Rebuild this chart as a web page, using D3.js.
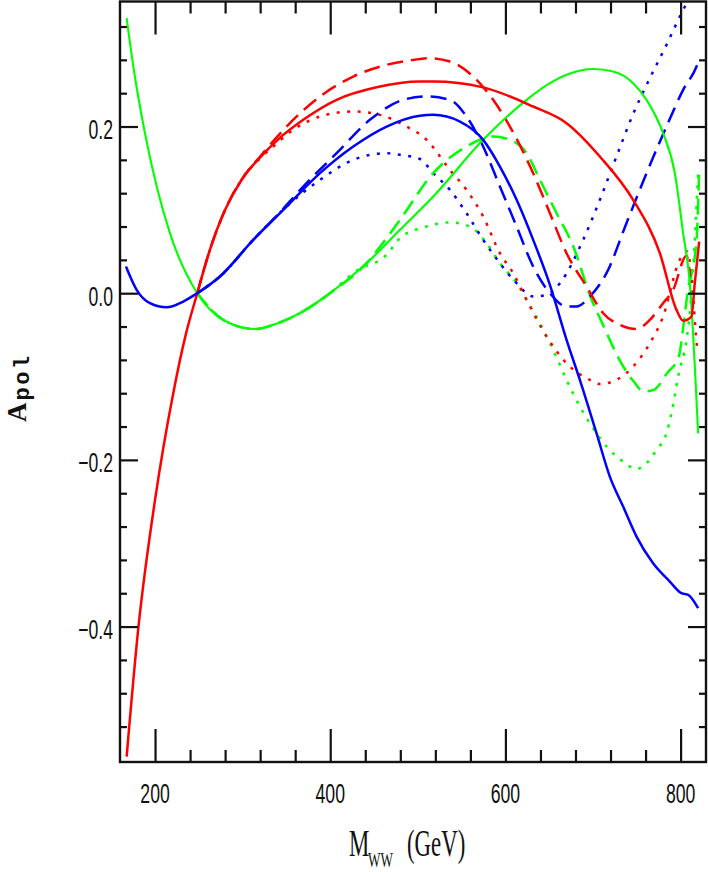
<!DOCTYPE html>
<html>
<head>
<meta charset="utf-8">
<script src="https://cdn.jsdelivr.net/npm/d3@7"></script>
<style>
  body { margin: 0; background: #fff; }
  svg { display: block; }
</style>
</head>
<body>
<script>
//Tick values for the two axes
var xTickLabels = [200, 400, 600, 800];
var yTickLabels = [-0.4, -0.2, 0.0, 0.2];

//Curves, [M_WW, A_pol]
var redSolid = [[167.6,-0.556],[180.9,-0.402],[200,-0.248],[220.8,-0.12],[235,-0.05],[248.2,0],[262,0.05],[280,0.1],[300,0.138],[320,0.163],[340,0.184],[369.2,0.208],[407.3,0.232],[452.9,0.247],[502.4,0.254],[517.6,0.254],[574.6,0.247],[631.6,0.224],[669.8,0.204],[707.8,0.164],[745.8,0.112],[776.3,0.048],[795.3,-0.02],[802.9,-0.033],[812.4,-0.028],[816.2,0.012],[821.2,0.062]];
var redDashed = [[248.2,0],[262,0.05],[280,0.1],[300,0.138],[320,0.164],[350.2,0.2],[388.3,0.236],[426.3,0.26],[464.4,0.274],[502.4,0.281],[510,0.282],[536.6,0.278],[563.2,0.26],[586,0.232],[605.1,0.2],[631.7,0.144],[650.8,0.096],[669.8,0.048],[692.6,0.008],[711.6,-0.024],[730.6,-0.038],[749.7,-0.043],[764.9,-0.032],[780,-0.012],[791.5,0.004],[806.7,0.045],[811,0.02]];
var redDotted = [[248.2,0],[262,0.05],[280,0.1],[300,0.138],[320,0.162],[335,0.176],[357.8,0.196],[388.3,0.212],[426.3,0.218],[456.7,0.214],[483.4,0.202],[510,0.184],[536.6,0.148],[555.6,0.124],[574.6,0.092],[593.7,0.048],[608.9,0.024],[624.2,-0.008],[647,-0.052],[673.6,-0.088],[696.4,-0.104],[707.8,-0.109],[726.8,-0.104],[745.8,-0.088],[764.9,-0.06],[780,-0.028],[799,0.04],[808,0.05],[814,0.0],[818.5,-0.062],[820,-0.072]];

var blueSolid = [[166.8,0.032],[179,0.004],[194.2,-0.012],[213.3,-0.017],[232.2,-0.01],[248.2,0],[274.1,0.02],[312.1,0.064],[350.2,0.104],[388.3,0.144],[426.3,0.176],[464.4,0.2],[502.4,0.213],[517.6,0.214],[548.1,0.206],[574.6,0.184],[593.7,0.152],[612.8,0.112],[631.7,0.064],[650.8,0.01],[669.8,-0.056],[685,-0.104],[704,-0.168],[719.2,-0.22],[734.4,-0.256],[749.7,-0.292],[768.6,-0.324],[787.7,-0.346],[801,-0.36],[808.6,-0.362],[820,-0.378]];
var blueDashed = [[248.2,0],[274.1,0.02],[312.1,0.064],[340,0.094],[369.2,0.128],[407.3,0.168],[445.3,0.208],[483.4,0.232],[510,0.236],[536.6,0.232],[555.6,0.212],[574.6,0.176],[593.7,0.128],[612.8,0.08],[631.7,0.032],[650.8,0],[669.8,-0.016],[681.2,-0.016],[696.4,-0.004],[715.4,0.024],[738.2,0.084],[761.1,0.144],[783.9,0.2],[802.9,0.244],[818.2,0.272],[821,0.28]];
var blueDotted = [[248.2,0],[274.1,0.02],[312.1,0.064],[350.2,0.104],[388.3,0.136],[426.3,0.16],[464.4,0.168],[479.6,0.166],[502.4,0.161],[517.6,0.144],[536.6,0.124],[555.6,0.096],[574.6,0.064],[593.7,0.036],[612.8,0.012],[631.7,-0.004],[646.9,-0.002],[662.2,0.012],[688.8,0.064],[707.8,0.112],[726.8,0.164],[745.8,0.215],[764.9,0.258],[783.9,0.298],[801,0.336],[812,0.358]];

var greenSolid = [[167.6,0.33],[175.2,0.272],[188.5,0.192],[201.9,0.128],[217,0.072],[248.2,0],[277.9,-0.032],[314,-0.043],[340,-0.036],[365.4,-0.024],[399.7,0],[441.5,0.036],[479.6,0.076],[517.6,0.116],[574.6,0.184],[624.2,0.232],[650.8,0.252],[669.8,0.262],[700.2,0.269],[723,0.266],[745.8,0.252],[761.1,0.232],[780,0.192],[793.4,0.144],[802.9,0.072],[810.5,0.012],[820,-0.168]];
var greenDashed = [[248.2,0],[277.9,-0.032],[314,-0.043],[340,-0.036],[365.4,-0.024],[399.7,0],[441.5,0.036],[460,0.06],[479.6,0.088],[517.6,0.144],[555.6,0.176],[586,0.188],[605.1,0.184],[624.2,0.168],[639.4,0.136],[658.4,0.096],[677.5,0.056],[697,-0.004],[712.3,-0.04],[731.3,-0.082],[746.5,-0.106],[757.9,-0.118],[769.3,-0.116],[784.5,-0.096],[797.9,-0.076],[803.6,-0.036],[807.3,-0.004],[818.2,0.064],[821.2,0.148]];
var greenDotted = [[248.2,0],[277.9,-0.032],[314,-0.043],[340,-0.036],[365.4,-0.024],[399.7,0],[430,0.027],[464.4,0.046],[479.6,0.066],[510,0.08],[536.6,0.085],[559.4,0.08],[578.5,0.06],[593.7,0.036],[612.8,0.012],[624.2,-0.008],[639.4,-0.036],[654.6,-0.068],[669.8,-0.104],[685,-0.136],[696.4,-0.156],[715.4,-0.184],[734.4,-0.202],[749.7,-0.211],[761.1,-0.204],[772.5,-0.188],[783.9,-0.168],[789.6,-0.144],[797.2,-0.1],[806.7,-0.056],[810.5,-0.024],[818.2,0.104],[820,0.144]];

//Dimensions of the page and of the plot frame
var width = 708,
    height = 872,
    margin = {top: 1.5, right: 2, bottom: 110, left: 120};

var x = d3.scaleLinear()
    .domain([160, 829])
    .range([margin.left, width - margin.right]);

var y = d3.scaleLinear()
    .domain([-0.5625, 0.35])
    .range([height - margin.bottom, margin.top]);

const svg = d3.select("body")
    .append("svg")
    .attr("width", width)
    .attr("height", height);

svg.append("clipPath")
    .attr("id", "frame")
  .append("rect")
    .attr("x", x.range()[0])
    .attr("y", y.range()[1])
    .attr("width", x.range()[1] - x.range()[0])
    .attr("height", y.range()[0] - y.range()[1]);

//Curves, dotted and dashed first so the solid lines sit on top
var line = d3.line()
    .x(d => x(d[0]))
    .y(d => y(d[1]))
    .curve(d3.curveMonotoneX);

var curves = [
    {data: greenDotted, color: "#00ff00", dash: "3,7.5", w: 2.5},
    {data: blueDotted, color: "#0000ff", dash: "3,7.5", w: 2.5},
    {data: redDotted, color: "#ff0000", dash: "3,7.5", w: 2.5},
    {data: greenDashed, color: "#00ff00", dash: "16,8", w: 2.5},
    {data: blueDashed, color: "#0000ff", dash: "16,8", w: 2.5},
    {data: redDashed, color: "#ff0000", dash: "16,8", w: 2.5},
    {data: greenSolid, color: "#00ff00", dash: null, w: 2.1},
    {data: redSolid, color: "#ff0000", dash: null, w: 2.5},
    {data: blueSolid, color: "#0000ff", dash: null, w: 2.5}
];

const plot = svg.append("g").attr("clip-path", "url(#frame)");

plot.selectAll("path")
    .data(curves)
    .join("path")
    .attr("d", d => line(d.data))
    .attr("fill", "none")
    .attr("stroke", d => d.color)
    .attr("stroke-width", d => d.w)
    .attr("stroke-dasharray", d => d.dash)
    .attr("stroke-linecap", "butt");

//Ticks on all four sides, pointing inwards
var xMinor = d3.range(200, 829, 40).filter(v => xTickLabels.indexOf(v) < 0);
var yMinor = d3.range(-0.52, 0.33, 0.04).filter(v => !yTickLabels.some(t => Math.abs(t - v) < 1e-6));

function noLabels(axis) { return axis.tickFormat("").tickSizeOuter(0); }

var tickGroups = [
    svg.append("g").attr("transform", `translate(0,${y.range()[0]})`).call(noLabels(d3.axisBottom(x).tickValues(xTickLabels).tickSize(-33))),
    svg.append("g").attr("transform", `translate(0,${y.range()[0]})`).call(noLabels(d3.axisBottom(x).tickValues(xMinor).tickSize(-12))),
    svg.append("g").attr("transform", `translate(0,${y.range()[1]})`).call(noLabels(d3.axisTop(x).tickValues(xTickLabels).tickSize(-33))),
    svg.append("g").attr("transform", `translate(0,${y.range()[1]})`).call(noLabels(d3.axisTop(x).tickValues(xMinor).tickSize(-12))),
    svg.append("g").attr("transform", `translate(${x.range()[0]},0)`).call(noLabels(d3.axisLeft(y).tickValues(yTickLabels).tickSize(-18))),
    svg.append("g").attr("transform", `translate(${x.range()[0]},0)`).call(noLabels(d3.axisLeft(y).tickValues(yMinor).tickSize(-7))),
    svg.append("g").attr("transform", `translate(${x.range()[1]},0)`).call(noLabels(d3.axisRight(y).tickValues(yTickLabels).tickSize(-18))),
    svg.append("g").attr("transform", `translate(${x.range()[1]},0)`).call(noLabels(d3.axisRight(y).tickValues(yMinor).tickSize(-7)))
];
tickGroups.forEach(g => {
    g.select(".domain").remove();
    g.selectAll("line").attr("stroke", "#111").attr("stroke-width", 2.2);
});

//Frame
svg.append("rect")
    .attr("x", x.range()[0])
    .attr("y", y.range()[1])
    .attr("width", x.range()[1] - x.range()[0])
    .attr("height", y.range()[0] - y.range()[1])
    .attr("fill", "none")
    .attr("stroke", "#111")
    .attr("stroke-width", 2.4);

//Tick labels, in a narrow face
var labelFont = "'Liberation Sans', Arial, sans-serif";
var fmt = d3.format(".1f");

svg.append("g").selectAll("text")
    .data(xTickLabels)
    .join("text")
    .attr("transform", d => `translate(${x(d)},803) scale(0.63,1)`)
    .attr("text-anchor", "middle")
    .attr("font-family", labelFont)
    .attr("font-size", 28)
    .attr("fill", "#111")
    .text(d => d);

svg.append("g").selectAll("text")
    .data(yTickLabels)
    .join("text")
    .attr("transform", d => `translate(113,${y(d) + 12.5}) scale(0.63,1)`)
    .attr("text-anchor", "end")
    .attr("font-family", labelFont)
    .attr("font-size", 28)
    .attr("fill", "#111")
    .text(d => fmt(d));

//Axis titles
var titleFont = "'Liberation Serif', 'Times New Roman', serif";

svg.append("text")
    .attr("transform", "translate(349,856) scale(0.6,1)")
    .attr("font-family", titleFont)
    .attr("font-size", 38)
    .attr("fill", "#111")
    .text("M");
svg.append("text")
    .attr("transform", "translate(368,867) scale(0.6,1)")
    .attr("font-family", titleFont)
    .attr("font-size", 22)
    .attr("fill", "#111")
    .text("WW");
svg.append("text")
    .attr("transform", "translate(407,856) scale(0.6,1)")
    .attr("font-family", titleFont)
    .attr("font-size", 38)
    .attr("fill", "#111")
    .text("(GeV)");

const yTitle = svg.append("text")
    .attr("transform", "translate(26,422) rotate(-90)")
    .attr("font-family", titleFont)
    .attr("font-weight", "bold")
    .attr("fill", "#111");
yTitle.append("tspan")
    .attr("font-size", 27)
    .text("A");
yTitle.append("tspan")
    .attr("font-family", "'Liberation Mono', 'Courier New', monospace")
    .attr("font-size", 22)
    .attr("letter-spacing", 2.5)
    .attr("dy", 3)
    .attr("dx", 2)
    .text("pol");
</script>
</body>
</html>
